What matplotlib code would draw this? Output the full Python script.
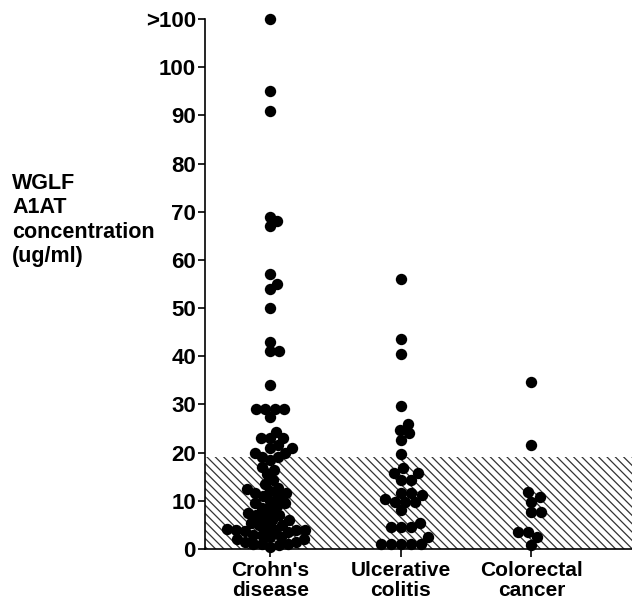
import numpy as np
import matplotlib
matplotlib.use('Agg')
import matplotlib.pyplot as plt

plt.rcParams['font.family'] = ['Liberation Sans', 'DejaVu Sans']
plt.rcParams['font.weight'] = 'bold'
plt.rcParams['hatch.linewidth'] = 0.9

groups = ["Crohn's\ndisease", "Ulcerative\ncolitis", "Colorectal\ncancer"]

# values; 110 stands for the ">100" row
crohns = [110, 95, 91, 69, 68, 67, 57, 55, 54, 50, 43, 41, 41, 34,
          29, 29, 29, 29, 27.5, 24.3, 23, 23, 23, 21.6, 21, 21, 20, 20,
          19, 19, 18.5, 17, 16.5, 15.5, 14.3, 13.5, 12.7, 12.5, 12, 11.6,
          11.6, 11, 10.8, 10, 9.6, 9.5, 9, 8.5, 8, 7.5, 7, 7, 6.5, 6, 6,
          5.5, 5, 5, 4.5, 4.2, 4, 4, 4, 4, 3.8, 3.5, 3, 3, 2.5,
          2.5, 2, 2, 1.5, 1.5, 1, 1, 1, 0.8, 0.5]
colitis = [56, 43.6, 40.5, 29.7, 26, 24.7, 24, 22.7, 19.8, 16.8, 15.8, 15.8,
           14.3, 14.3, 11.6, 11.6, 11.2, 10.3, 9.8, 9.8, 9.8, 8, 5.4, 4.6,
           4.6, 4.6, 2.5, 1, 1, 1, 1, 1]
cancer = [34.7, 21.6, 11.8, 10.8, 9.8, 7.7, 7.7, 3.5, 3.5, 2.5, 0.8]

normal_upper = 19
yticks = [0, 10, 20, 30, 40, 50, 60, 70, 80, 90, 100, 110]
yticklabels = ['0', '10', '20', '30', '40', '50', '60', '70', '80', '90', '100', '>100']


def swarm(ax, vals, xc, dmin=10.0):
    # simple beeswarm in pixel space, then back to data coords
    pts = ax.transData.transform([(xc, v) for v in vals])
    ys = pts[:, 1]
    cand = [0]
    for k in range(1, 120):
        cand += [k, -k]
    placed = []
    xs = np.zeros(len(vals))
    for i in np.argsort(ys):
        for dx in cand:
            if all((dx - px) ** 2 + (ys[i] - py) ** 2 >= dmin ** 2 for px, py in placed):
                break
        placed.append((dx, ys[i]))
        xs[i] = pts[i, 0] + dx
    inv = ax.transData.inverted()
    return inv.transform(np.column_stack([xs, ys]))


fig = plt.figure(figsize=(6.32, 6.12), dpi=100)
fig.set_facecolor('white')
ax = fig.add_axes([205 / 632, 63 / 612, 427 / 632, 530 / 612])
ax.set_xlim(0.5, 3.77)
ax.set_ylim(0, 110)

ax.axhspan(0, normal_upper, facecolor='none', edgecolor='#333333',
           hatch='\\\\\\\\', linewidth=0, zorder=1)

for i, (vals, d) in enumerate(zip([crohns, colitis, cancer], [8.3, 9.5, 10])):
    xy = swarm(ax, vals, i + 1, d)
    ax.plot(xy[:, 0], xy[:, 1], 'o', color='black', ms=8.2, mew=0,
            clip_on=False, zorder=3)

ax.spines['top'].set_visible(False)
ax.spines['right'].set_visible(False)
for s in ['left', 'bottom']:
    ax.spines[s].set_linewidth(1.2)

ax.set_yticks(yticks)
ax.set_yticklabels(yticklabels, fontsize=16)
ax.set_xticks([1, 2, 3])
ax.set_xticklabels(groups, fontsize=15, linespacing=1.05)
ax.tick_params(axis='y', length=5, width=1.2, pad=1.5)
ax.tick_params(axis='x', length=6, width=1.2, pad=3)

fig.text(12 / 632, 1 - 220 / 612, 'WGLF\nA1AT\nconcentration\n(ug/ml)',
         fontsize=15.5, ha='left', va='center', linespacing=1.2)

fig.savefig('out.png', dpi=100)
